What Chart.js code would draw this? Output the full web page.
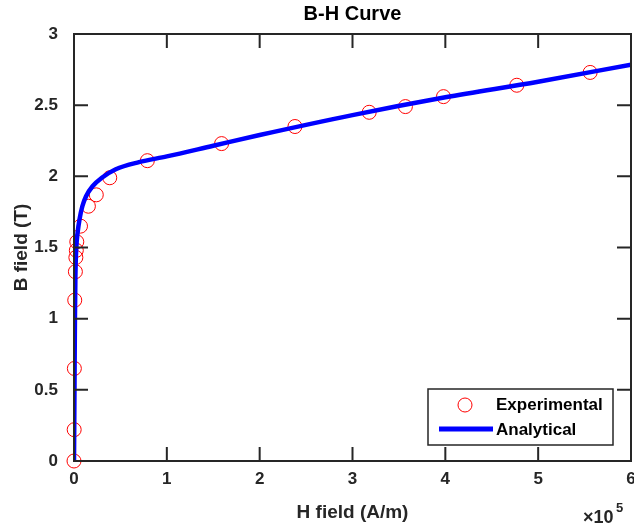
<!DOCTYPE html>
<html lang="en">
<head>
  <meta charset="UTF-8" />
  <title>B-H Curve</title>
  <script src="https://cdn.jsdelivr.net/npm/chart.js"></script>
  <style>
    html, body { margin: 0; padding: 0; background: #fff; }
    #wrap { width: 634px; height: 531px; }
  </style>
</head>
<body>
  <div id="wrap"><canvas id="bhChart" width="634" height="531"></canvas></div>

  <script>
// Experimental samples (H in A/m, B in T)
const expH = [0, 200, 400, 800, 1500, 2000, 2500, 3000, 7000, 15500, 24000, 38500, 79000, 159000, 238000, 318000, 357000, 398000, 477000, 556000];
const expB = [0, 0.22, 0.65, 1.13, 1.33, 1.43, 1.48, 1.54, 1.65, 1.79, 1.87, 1.99, 2.11, 2.23, 2.35, 2.45, 2.49, 2.56, 2.64, 2.73];

// Analytical curve
const anaH = [0, 500, 1000, 1500, 2500, 4000, 6000, 9000, 13000, 20000, 30000, 45000, 70000, 100000, 150000, 200000, 300000, 400000, 500000, 600000];
const anaB = [0, 0.5, 1.0, 1.3, 1.5, 1.61, 1.70, 1.79, 1.86, 1.93, 1.99, 2.05, 2.10, 2.14, 2.215, 2.29, 2.43, 2.555, 2.665, 2.785];

const xTicks = [0, 1, 2, 3, 4, 5, 6];            // x 10^5
const yTicks = ['0', '0.5', '1', '1.5', '2', '2.5', '3'];

const axisColor = '#262626';
const fontFam = '"Liberation Sans", Arial, sans-serif';

// box, inward ticks, title, exponent and legend
const matlabAxes = {
  id: 'matlabAxes',
  afterDatasetsDraw(chart) {
    const { ctx, chartArea: a, scales: { x, y } } = chart;
    const tl = 14;
    ctx.save();
    ctx.strokeStyle = axisColor;
    ctx.lineWidth = 2;
    ctx.beginPath();
    xTicks.forEach(t => {
      const px = x.getPixelForValue(t * 1e5);
      ctx.moveTo(px, a.bottom); ctx.lineTo(px, a.bottom - tl);
      ctx.moveTo(px, a.top); ctx.lineTo(px, a.top + tl);
    });
    yTicks.forEach(t => {
      const py = y.getPixelForValue(parseFloat(t));
      ctx.moveTo(a.left, py); ctx.lineTo(a.left + tl, py);
      ctx.moveTo(a.right, py); ctx.lineTo(a.right - tl, py);
    });
    ctx.stroke();
    ctx.strokeRect(a.left, a.top, a.right - a.left, a.bottom - a.top);

    // title
    ctx.fillStyle = '#000';
    ctx.font = 'bold 20px ' + fontFam;
    ctx.textAlign = 'center';
    ctx.textBaseline = 'middle';
    ctx.fillText('B-H Curve', (a.left + a.right) / 2, 14);

    // exponent label
    ctx.fillStyle = axisColor;
    ctx.textAlign = 'left';
    ctx.font = 'bold 18px ' + fontFam;
    ctx.fillText('\u00d710', 583, 518);
    ctx.font = 'bold 13px ' + fontFam;
    ctx.fillText('5', 616, 508);

    // legend
    const lx = 428, ly = 389, lw = 185, lh = 56;
    ctx.fillStyle = '#fff';
    ctx.fillRect(lx, ly, lw, lh);
    ctx.lineWidth = 1.5;
    ctx.strokeStyle = axisColor;
    ctx.strokeRect(lx, ly, lw, lh);
    const ds = chart.data.datasets;
    ctx.strokeStyle = '#ff0000';
    ctx.lineWidth = 1;
    ctx.beginPath();
    ctx.arc(465, 405, 7, 0, Math.PI * 2);
    ctx.stroke();
    ctx.strokeStyle = '#0000ff';
    ctx.lineWidth = 5;
    ctx.beginPath();
    ctx.moveTo(439, 429); ctx.lineTo(493, 429);
    ctx.stroke();
    ctx.fillStyle = '#000';
    ctx.font = 'bold 17px ' + fontFam;
    ctx.fillText(ds[1].label, 496, 405);
    ctx.fillText(ds[0].label, 496, 430);
    ctx.restore();
  }
};

const ctx = document.getElementById('bhChart').getContext('2d');
new Chart(ctx, {
  type: 'scatter',
  data: {
    datasets: [{
      label: 'Analytical',
      type: 'line',
      data: anaH.map((h, i) => ({ x: h, y: anaB[i] })),
      borderColor: '#0000ff',
      borderWidth: 4.5,
      pointRadius: 0,
      fill: false,
      cubicInterpolationMode: 'monotone',
      order: 0
    }, {
      label: 'Experimental',
      data: expH.map((h, i) => ({ x: h, y: expB[i] })),
      borderColor: '#ff0000',
      backgroundColor: 'rgba(0,0,0,0)',
      borderWidth: 1,
      pointRadius: 7,
      pointStyle: 'circle',
      clip: false,
      order: 1
    }]
  },
  options: {
    responsive: false,
    animation: false,
    layout: { autoPadding: false, padding: { top: 34, right: 3, left: 0, bottom: 0 } },
    plugins: {
      legend: { display: false },
      tooltip: { enabled: false },
      title: { display: false }
    },
    scales: {
      x: {
        type: 'linear',
        min: 0, max: 600000,
        afterFit(s) { s.height = 70; s.paddingLeft = 0; s.paddingRight = 0; },
        afterBuildTicks(s) { s.ticks = xTicks.map(v => ({ value: v * 1e5 })); },
        grid: { display: false },
        border: { display: false },
        ticks: {
          padding: 0,
          color: axisColor,
          font: { family: fontFam, size: 17, weight: 'bold' },
          callback: v => String(v / 1e5)
        },
        title: {
          display: true,
          text: 'H field (A/m)',
          color: axisColor,
          padding: { bottom: 7 },
          font: { family: fontFam, size: 19, weight: 'bold' }
        }
      },
      y: {
        type: 'linear',
        min: 0, max: 3,
        afterFit(s) { s.width = 74; s.paddingTop = 0; s.paddingBottom = 0; },
        afterBuildTicks(s) { s.ticks = yTicks.map(v => ({ value: parseFloat(v) })); },
        grid: { display: false },
        border: { display: false },
        ticks: {
          padding: 8,
          color: axisColor,
          font: { family: fontFam, size: 17, weight: 'bold' },
          callback: (v, i) => yTicks[i]
        },
        title: {
          display: true,
          text: 'B field (T)',
          color: axisColor,
          padding: { top: 10 },
          font: { family: fontFam, size: 19, weight: 'bold' }
        }
      }
    }
  },
  plugins: [matlabAxes]
});
  </script>
</body>
</html>
